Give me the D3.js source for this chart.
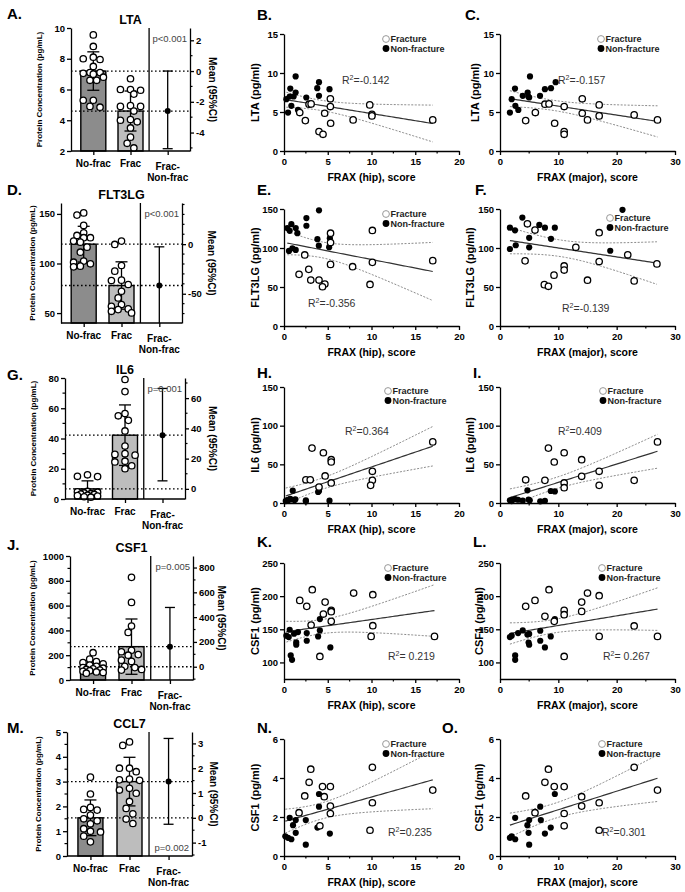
<!DOCTYPE html>
<html>
<head>
<meta charset="utf-8">
<script src="https://cdn.jsdelivr.net/npm/d3@7"></script>
<style>
  body { margin: 0; background: #fff; }
  svg text { font-family: "Liberation Sans", Arial, sans-serif; }
</style>
</head>
<body>
<svg id="fig" width="685" height="892"></svg>
<script>
var FONT = '"Liberation Sans", Arial, sans-serif';

// categories / labels
var groups = ["No-frac", "Frac", "Frac-Non-frac"];
var markers = ["LTA", "FLT3LG", "IL6", "CSF1", "CCL7"];
var barLetters = ["A.", "D.", "G.", "J.", "M."];
var hipLetters = ["B.", "E.", "H.", "K.", "N."];
var majorLetters = ["C.", "F.", "I.", "L.", "O."];
var pTexts = ["p<0.001", "p<0.001", "p=0.001", "p=0.005", "p=0.002"];
var scatterYLabels = ["LTA (pg/ml)", "FLT3LG (pg/ml)", "IL6 (pg/ml)", "CSF1 (pg/ml)", "CSF1 (pg/ml)"];
var hipR2 = ["-0.142", "-0.356", "0.364", " 0.219", "0.235"];
var majorR2 = ["-0.157", "-0.139", "0.409", " 0.267", "0.301"];

// bar summaries (mean, SD) and difference CI
var noFracMean = [7.2, 119.5, 6.7, 107, 1.54];
var noFracSD = [1.25, 18, 5.3, 50, 0.72];
var fracMean = [4.6, 77.8, 42.2, 269, 3.0];
var fracSD = [1.3, 23.9, 20, 223, 0.98];
var diffLow = [-5.05, -80, 5.3, -108, -0.26];
var diffHigh = [0.0, -2.7, 66.4, 478, 3.2];

// bar panel axes
var leftDomain = [[2, 10], [40, 161], [0, 80], [0, 1000], [0, 5]];
var leftTicks = [[2, 4, 6, 8, 10], [50, 100, 150], [0, 20, 40, 60, 80], [0, 200, 400, 600, 800, 1000], [0, 1, 2, 3, 4, 5]];
var leftMinor = [null, null, 10, 100, 0.5];
var rightTicks = [[-4, -2, 0, 2], [-50, 0], [0, 20, 40, 60], [0, 200, 400, 600, 800], [-1, 0, 1, 2, 3]];
var rightMinor = [1, 10, 10, 100, 0.5];

// individual values in the bar panels
var ltaNoFrac = [9.55, 8.8, 8.1, 8.0, 7.95, 7.5, 7.1, 7.1, 7.05, 7.0, 6.8, 6.6, 6.6, 5.3, 5.3, 4.9, 4.85];
var ltaFrac = [6.7, 6.0, 6.0, 5.95, 5.7, 4.95, 4.9, 4.9, 4.6, 4.05, 4.0, 3.9, 3.5, 2.9, 2.5, 2.2];
var flt3NoFrac = [151, 148.8, 138.4, 131, 128.3, 126, 126, 122.6, 121.5, 116.5, 111.4, 102.4, 101.3, 99.7, 97.3, 96.6];
var flt3Frac = [122.6, 119.2, 98, 92.3, 83.2, 82.8, 78.8, 72, 65.3, 58.6, 56.9, 54.2, 53.5, 51.8, 50.2];
var il6NoFrac = [16, 15, 14.8, 5, 4.8, 4.5, 4.0, 3.5, 3.2, 3.0, 2.5, 2.2, 2.0, 1.5, 1.2];
var il6Frac = [79, 71, 56.5, 55, 52, 45, 35, 30, 29.5, 29, 25, 24.5, 22, 20];
var csf1NoFrac = [220, 168, 148, 140, 130, 120, 110, 100, 95, 90, 85, 80, 75, 70, 65, 60, 55];
var csf1Frac = [828, 626, 435, 384, 240, 228, 205, 200, 160, 150, 110, 100, 85, 80];
var ccl7NoFrac = [3.18, 2.5, 1.96, 1.88, 1.85, 1.65, 1.5, 1.42, 1.3, 1.1, 1.0, 0.97, 0.8, 0.57];
var ccl7Frac = [4.6, 4.46, 3.54, 3.54, 3.4, 3.1, 3.07, 3.05, 2.73, 2.66, 2.53, 2.2, 1.92, 1.7, 1.49, 1.31];

// scatter panels: [FRAX, concentration]
var ltaHipFrac = [[5.3, 6.69], [2.86, 6.0], [3.1, 6.04], [5.3, 5.7], [9.8, 5.91], [1.8, 4.93], [4.65, 4.84], [10.05, 4.7], [10.05, 4.5], [2.44, 3.9], [7.9, 3.99], [5.33, 3.56], [17.0, 3.99], [4.0, 2.49], [4.46, 2.14]];
var ltaHipNon = [[1.33, 9.56], [4.0, 8.83], [3.8, 8.06], [5.2, 7.93], [0.72, 8.0], [1.33, 7.5], [0.27, 6.64], [0.65, 6.99], [1.1, 6.99], [2.55, 6.86], [4.0, 7.07], [0.84, 5.79], [1.6, 5.27], [0.46, 4.93]];
var ltaMajFrac = [[14.1, 6.69], [7.7, 6.0], [8.4, 6.04], [11.0, 5.7], [17.0, 5.91], [6.06, 4.93], [14.1, 4.84], [17.0, 4.5], [23.0, 4.63], [4.4, 3.9], [15.0, 3.99], [9.37, 3.56], [27.0, 3.99], [11.0, 2.49], [11.0, 2.14]];
var ltaMajNon = [[5.14, 9.56], [9.54, 8.83], [8.74, 8.06], [7.7, 7.93], [2.57, 8.0], [4.74, 7.5], [2.0, 6.64], [4.86, 6.99], [3.9, 7.07], [6.86, 7.07], [2.63, 5.79], [3.14, 5.27], [1.7, 4.93], [5.0, 6.86]];

var flt3HipFrac = [[5.32, 119], [5.32, 107], [10.1, 122.5], [2.37, 91.1], [17.0, 83.8], [10.1, 81.6], [5.32, 79], [7.84, 76], [2.83, 72.6], [1.72, 66.2], [3.06, 58.9], [4.0, 58.9], [4.67, 53.7], [4.4, 50.3], [9.83, 53.3]];
var flt3HipNon = [[4.0, 148.3], [2.56, 138.4], [0.84, 130.6], [1.34, 125.5], [0.38, 125.5], [0.65, 122], [1.53, 119], [2.56, 128.5], [3.82, 111.3], [5.24, 112.6], [3.98, 103], [5.16, 101], [0.96, 99.7], [1.34, 97.5], [0.57, 96.3]];
var flt3MajFrac = [[4.7, 131], [6.0, 123], [4.3, 83.5], [7.6, 53], [8.3, 50.9], [9.26, 65.2], [11, 77], [11, 71.7], [13, 100.9], [15, 58.7], [17, 119.6], [17, 82.6], [21.9, 91.3], [23, 57.8], [26.9, 79.6]];
var flt3MajNon = [[1.7, 126], [1.7, 98.7], [2.57, 122.6], [2.7, 103.5], [3.83, 139], [5.0, 113], [5.0, 100.9], [6.74, 129.6], [7.7, 126], [8.74, 111.7], [9.4, 126], [18.9, 96.5], [21.0, 149]];

var il6HipFrac = [[17, 79], [3.2, 71], [4.5, 65], [5.4, 56], [5.4, 53], [10.1, 41], [4.7, 35], [2.5, 30], [3.0, 30], [10.1, 29.3], [5.4, 25.9], [9.9, 22.8], [4.0, 20.7]];
var il6HipNon = [[1.0, 16], [4.0, 15.5], [3.9, 14.2], [0.7, 5.5], [1.3, 4.7], [2.5, 3.4], [2.5, 2.2], [5.2, 3.0], [0.3, 3.5], [0.5, 4.2], [0.8, 4.5], [0.2, 2.5], [0.4, 3.0], [1.2, 4.0]];
var il6MajFrac = [[27, 79], [8.3, 71], [11, 65], [9.3, 53], [14, 56], [17, 41], [14, 34.5], [4.4, 30], [7.7, 29.3], [23, 29.3], [11, 25.9], [11, 19.8], [17, 22.8]];
var il6MajNon = [[1.7, 3.5], [2.0, 4.0], [2.6, 5.0], [2.0, 2.5], [4.7, 16.4], [4.9, 4.5], [5.1, 3.4], [6.9, 2.2], [7.7, 2.8], [8.7, 15.5], [9.4, 15.0], [3.1, 4.2], [3.9, 3.0]];

var csf1HipFrac = [[3.23, 209.7], [7.96, 204.7], [10.15, 202.2], [1.8, 193.6], [4.7, 191], [2.6, 184.6], [5.4, 178.5], [5.4, 176.5], [4.5, 173], [5.4, 162], [3.1, 156.4], [10.15, 155.4], [9.96, 139.3], [17.2, 139.3], [4.1, 109]];
var csf1HipNon = [[4.1, 165.4], [4.1, 148.3], [0.65, 149.3], [1.6, 145.8], [1.15, 143.3], [2.6, 144.3], [0.27, 140.3], [0.54, 138.3], [3.9, 139.3], [1.4, 130.2], [1.4, 126.7], [2.6, 132.7], [5.3, 122.7], [0.77, 110.6], [0.92, 104]];
var csf1MajFrac = [[8.4, 209.7], [15, 204.7], [17, 200.7], [6.0, 193.6], [14, 191], [4.4, 184.6], [11, 178.5], [11, 172], [14, 177], [7.7, 169.5], [9.3, 162], [23, 155], [17, 139.3], [27, 139.3], [11, 109]];
var csf1MajNon = [[1.7, 138.3], [2.0, 140.3], [3.1, 144.3], [3.9, 148.3], [4.7, 142], [5.0, 143], [6.9, 147.8], [8.7, 139.3], [9.4, 165.4], [9.4, 163], [4.9, 130], [5.0, 126.7], [6.9, 132.7], [7.7, 122.7], [2.6, 110.6], [2.6, 104]];

var ccl7HipFrac = [[10.1, 4.55], [3.06, 4.45], [2.87, 3.78], [4.4, 3.56], [5.3, 3.56], [17, 3.38], [2.37, 3.08], [4.6, 3.04], [10.1, 2.73], [5.3, 2.56], [1.72, 2.22], [5.3, 2.18], [4.1, 1.55], [9.83, 1.32]];
var ccl7HipNon = [[4.0, 3.18], [4.0, 2.53], [0.65, 1.96], [1.34, 1.84], [2.49, 1.84], [1.03, 1.58], [3.82, 1.46], [1.34, 1.19], [5.24, 1.15], [0.15, 1.01], [0.46, 0.93], [0.84, 0.86], [2.49, 0.58]];
var ccl7MajFrac = [[23, 4.55], [8.3, 4.45], [7.7, 3.78], [9.3, 3.56], [11, 3.56], [27, 3.38], [4.4, 3.08], [14, 3.04], [17, 2.73], [14, 2.56], [6.0, 2.22], [11, 2.18], [11, 1.55], [17, 1.32]];
var ccl7MajNon = [[9.4, 3.18], [6.9, 2.53], [2.6, 1.96], [5.0, 1.84], [7.0, 1.84], [4.7, 1.58], [8.7, 1.46], [4.9, 1.19], [7.7, 1.15], [2.0, 1.01], [1.7, 0.93], [2.6, 0.86], [5.0, 0.58]];

// scatter axes
var scatterYDomain = [[0, 15], [0, 150], [0, 150], [75, 250], [0, 6]];
var scatterYTicks = [[0, 5, 10, 15], [0, 50, 100, 150], [0, 50, 100, 150], [100, 150, 200, 250], [0, 2, 4, 6]];
var hipTicks = [0, 5, 10, 15, 20];
var majorTicks = [0, 10, 20, 30];

var noFracPts = [ltaNoFrac, flt3NoFrac, il6NoFrac, csf1NoFrac, ccl7NoFrac];
var fracPts = [ltaFrac, flt3Frac, il6Frac, csf1Frac, ccl7Frac];
var hipFrac = [ltaHipFrac, flt3HipFrac, il6HipFrac, csf1HipFrac, ccl7HipFrac];
var hipNon = [ltaHipNon, flt3HipNon, il6HipNon, csf1HipNon, ccl7HipNon];
var majFrac = [ltaMajFrac, flt3MajFrac, il6MajFrac, csf1MajFrac, ccl7MajFrac];
var majNon = [ltaMajNon, flt3MajNon, il6MajNon, csf1MajNon, ccl7MajNon];

// layout
var barBoxes = [
  { left: 71, right: 190, top: 28, bottom: 151, letterY: 19, lab: 42, mlab: 209, pAt: "top" },
  { left: 61, right: 182, top: 203, bottom: 323, letterY: 195, lab: 35, mlab: 208, pAt: "top" },
  { left: 65, right: 185, top: 378, bottom: 499, letterY: 380, lab: 36, mlab: 209, pAt: "top" },
  { left: 70, right: 193, top: 556, bottom: 680, letterY: 550, lab: 35, mlab: 213, pAt: "top" },
  { left: 67, right: 192, top: 732, bottom: 856, letterY: 733, lab: 41, mlab: 206, pAt: "bottom" }
];
var rowBoxes = [
  { top: 34, bottom: 151, letterY: 20 },
  { top: 209, bottom: 326, letterY: 195 },
  { top: 387, bottom: 503, letterY: 378 },
  { top: 563, bottom: 679, letterY: 547 },
  { top: 739, bottom: 856, letterY: 733 }
];
var hipLegend = [[386, 39], [386, 214], [388, 391], [388, 568], [386, 744]];
var majLegend = [[601, 39], [610, 218], [603, 391], [602, 568], [602, 744]];
var hipR2Pos = [[342, 84], [308, 307], [345, 435], [388, 660], [388, 836]];
var majR2Pos = [[558, 84], [562, 312], [558, 435], [603, 660], [602, 836]];
var majLetterX = [465, 475, 473, 473, 442];
var majYLabX = [479, 474, 474, 483, 483];

var svg = d3.select("#fig");
var barFill = ["#8c8c8c", "#bdbdbd"];
var plain = function (d) { return String(d); };

function styleAxis(sel, fs) {
  sel.attr("font-family", null).attr("font-size", null);
  sel.select(".domain").attr("stroke", "#000").attr("stroke-width", 1.3);
  sel.selectAll(".tick line").attr("stroke", "#000").attr("stroke-width", 1.3);
  sel.selectAll(".tick text").attr("font-family", FONT).attr("font-size", fs)
    .attr("font-weight", "bold").attr("fill", "#000");
}

function addMinor(g, scale, step, majors, orient, len) {
  if (!step) return;
  var d = scale.domain(), lo = Math.min(d[0], d[1]), hi = Math.max(d[0], d[1]);
  var vals = d3.range(Math.ceil(lo / step - 1e-9) * step, hi + 1e-9, step).filter(function (v) {
    return !majors.some(function (m) { return Math.abs(m - v) < 1e-6; });
  });
  g.selectAll("line.minor").data(vals).enter().append("line")
    .attr("class", "minor")
    .attr("stroke", "#000").attr("stroke-width", 1.2)
    .attr("x1", function (v) { return orient === "bottom" ? scale(v) : 0; })
    .attr("x2", function (v) { return orient === "bottom" ? scale(v) : (orient === "left" ? -len : len); })
    .attr("y1", function (v) { return orient === "bottom" ? 0 : scale(v); })
    .attr("y2", function (v) { return orient === "bottom" ? len : scale(v); });
}

// simple swarm, kept inside the bar width
function swarm(vals, cx, y, r, maxOff) {
  var placed = [], need = (2 * r + 0.6) * (2 * r + 0.6);
  vals.slice().sort(function (a, b) { return b - a; }).forEach(function (v) {
    var py = y(v), best = 0, bestScore = -1;
    for (var s = 0; s < 40; s++) {
      var off = s === 0 ? 0 : Math.ceil(s / 2) * (s % 2 ? -1 : 1) * r * 1.05;
      if (Math.abs(off) > maxOff) continue;
      var minD = placed.reduce(function (m, p) {
        var dx = p.x - (cx + off), dy = p.y - py;
        return Math.min(m, dx * dx + dy * dy);
      }, Infinity);
      if (minD >= need) { best = off; break; }
      if (minD > bestScore) { bestScore = minD; best = off; }
    }
    placed.push({ x: cx + best, y: py });
  });
  return placed;
}

function drawBar(k) {
  var b = barBoxes[k];
  var g = svg.append("g");
  var ref = noFracMean[k];
  var y = d3.scaleLinear().domain(leftDomain[k]).range([b.bottom, b.top]);
  var y2 = d3.scaleLinear().domain([leftDomain[k][0] - ref, leftDomain[k][1] - ref]).range([b.bottom, b.top]);
  var x = d3.scalePoint().domain(groups).range([b.left, b.right]).padding(0.6);
  var divX = (x("Frac") + x("Frac-Non-frac")) / 2;
  var means = [noFracMean[k], fracMean[k]], sds = [noFracSD[k], fracSD[k]];

  g.selectAll("rect.bar").data([0, 1]).enter().append("rect")
    .attr("x", function (i) { return x(groups[i]) - 12.5; })
    .attr("width", 25)
    .attr("y", function (i) { return y(means[i]); })
    .attr("height", function (i) { return b.bottom - y(means[i]); })
    .attr("fill", function (i) { return barFill[i]; })
    .attr("stroke", "#000").attr("stroke-width", 1.4);

  // dotted reference lines at the two means
  g.selectAll("line.ref").data(means).enter().append("line")
    .attr("x1", b.left).attr("x2", b.right)
    .attr("y1", function (d) { return y(d); }).attr("y2", function (d) { return y(d); })
    .attr("stroke", "#000").attr("stroke-width", 1.3).attr("stroke-dasharray", "1.6,2.4");

  // SD error bars
  [0, 1].forEach(function (i) {
    var cx = x(groups[i]), hi = y(means[i] + sds[i]), lo = y(Math.max(means[i] - sds[i], leftDomain[k][0]));
    g.append("line").attr("x1", cx).attr("x2", cx).attr("y1", hi).attr("y2", lo)
      .attr("stroke", "#000").attr("stroke-width", 1.3);
    [hi, lo].forEach(function (yy) {
      g.append("line").attr("x1", cx - 6).attr("x2", cx + 6).attr("y1", yy).attr("y2", yy)
        .attr("stroke", "#000").attr("stroke-width", 1.3);
    });
  });

  // individual points
  [noFracPts[k], fracPts[k]].forEach(function (vals, i) {
    g.selectAll(null).data(swarm(vals, x(groups[i]), y, 3.2, 10.5)).enter().append("circle")
      .attr("cx", function (d) { return d.x; }).attr("cy", function (d) { return d.y; })
      .attr("r", 3.2).attr("fill", "#fff").attr("stroke", "#000").attr("stroke-width", 1.3);
  });

  // difference and its CI on the right axis
  var dx = x("Frac-Non-frac"), dm = fracMean[k] - ref;
  var d2 = y2.domain();
  var top = y2(Math.min(diffHigh[k], d2[1])), bot = y2(Math.max(diffLow[k], d2[0]));
  g.append("line").attr("x1", dx).attr("x2", dx).attr("y1", top).attr("y2", bot)
    .attr("stroke", "#000").attr("stroke-width", 1.3);
  [[diffHigh[k], top], [diffLow[k], bot]].forEach(function (c) {
    if (c[0] > d2[0] && c[0] < d2[1]) {
      g.append("line").attr("x1", dx - 5).attr("x2", dx + 5).attr("y1", c[1]).attr("y2", c[1])
        .attr("stroke", "#000").attr("stroke-width", 1.3);
    }
  });
  g.append("circle").attr("cx", dx).attr("cy", y2(dm)).attr("r", 3).attr("fill", "#000");

  // frame: divider and bottom axis
  g.append("line").attr("x1", divX).attr("x2", divX).attr("y1", b.top).attr("y2", b.bottom)
    .attr("stroke", "#000").attr("stroke-width", 1.3);
  var xa = g.append("g").attr("transform", "translate(0," + b.bottom + ")")
    .call(d3.axisBottom(x).tickSize(4).tickSizeOuter(0).tickFormat(""));
  styleAxis(xa, 10);
  xa.select(".domain").attr("d", "M" + b.left + ",0H" + b.right);

  groups.forEach(function (name) {
    var t = g.append("text").attr("x", x(name)).attr("text-anchor", "middle")
      .attr("font-size", 10).attr("font-weight", "bold");
    if (name === "Frac-Non-frac") {
      t.attr("y", b.bottom + 19).text("Frac-");
      g.append("text").attr("x", x(name)).attr("y", b.bottom + 30).attr("text-anchor", "middle")
        .attr("font-size", 10).attr("font-weight", "bold").text("Non-frac");
    } else {
      t.attr("y", b.bottom + 16).text(name);
    }
  });

  var la = g.append("g").attr("transform", "translate(" + b.left + ",0)")
    .call(d3.axisLeft(y).tickValues(leftTicks[k]).tickFormat(plain).tickSize(4).tickPadding(2).tickSizeOuter(0));
  styleAxis(la, 9.5);
  addMinor(la, y, leftMinor[k], leftTicks[k], "left", 2.5);

  var ra = g.append("g").attr("transform", "translate(" + b.right + ",0)")
    .call(d3.axisRight(y2).tickValues(rightTicks[k]).tickFormat(plain).tickSize(4).tickPadding(2).tickSizeOuter(0));
  styleAxis(ra, 9.5);
  addMinor(ra, y2, rightMinor[k], rightTicks[k], "right", 2.5);
  var rb = ra.node().getBBox();
  var mx = Math.max(b.mlab, b.right + rb.x + rb.width + 3);

  // texts
  g.append("text").attr("x", 7).attr("y", b.letterY).attr("font-size", 15).attr("font-weight", "bold").text(barLetters[k]);
  g.append("text").attr("x", (b.left + b.right) / 2).attr("y", b.top - 4).attr("text-anchor", "middle")
    .attr("font-size", 12.5).attr("font-weight", "bold").text(markers[k]);
  g.append("text").attr("transform", "translate(" + b.lab + "," + (b.top + b.bottom) / 2 + ") rotate(-90)")
    .attr("text-anchor", "middle").attr("font-size", 8).attr("font-weight", "bold")
    .text("Protein Concentration (pg/mL)");
  g.append("text").attr("transform", "translate(" + mx + "," + (b.top + b.bottom) / 2 + ") rotate(90)")
    .attr("text-anchor", "middle").attr("font-size", 10).attr("font-weight", "bold")
    .text("Mean (95%CI)");
  g.append("text").attr("x", b.right - 3)
    .attr("y", b.pAt === "top" ? b.top + 14 : b.bottom - 5)
    .attr("text-anchor", "end").attr("font-size", 9.5).attr("fill", "#444").text(pTexts[k]);
}

function regression(pts) {
  var n = pts.length;
  var mx = d3.mean(pts, function (d) { return d[0]; });
  var my = d3.mean(pts, function (d) { return d[1]; });
  var sxx = d3.sum(pts, function (d) { return (d[0] - mx) * (d[0] - mx); });
  var sxy = d3.sum(pts, function (d) { return (d[0] - mx) * (d[1] - my); });
  var bb = sxy / sxx, a = my - bb * mx;
  var s = Math.sqrt(d3.sum(pts, function (d) { var e = d[1] - a - bb * d[0]; return e * e; }) / (n - 2));
  var t = 1.96 + 2.4 / (n - 2);
  var ext = d3.extent(pts, function (d) { return d[0]; });
  return d3.range(0, 61).map(function (i) {
    var xv = ext[0] + (ext[1] - ext[0]) * i / 60;
    var fit = a + bb * xv, h = t * s * Math.sqrt(1 / n + (xv - mx) * (xv - mx) / sxx);
    return { x: xv, fit: fit, lo: fit - h, hi: fit + h };
  });
}

function drawScatter(k, isMajor) {
  var r = rowBoxes[k];
  var left = isMajor ? 500 : 284, right = isMajor ? 675 : 459;
  var g = svg.append("g");
  var x = d3.scaleLinear().domain(isMajor ? [0, 30] : [0, 20]).range([left, right]);
  var y = d3.scaleLinear().domain(scatterYDomain[k]).range([r.bottom, r.top]);
  var frac = isMajor ? majFrac[k] : hipFrac[k];
  var non = isMajor ? majNon[k] : hipNon[k];
  var clipId = "clip" + k + (isMajor ? "m" : "h");
  svg.append("clipPath").attr("id", clipId).append("rect")
    .attr("x", left).attr("y", r.top).attr("width", right - left).attr("height", r.bottom - r.top);

  var fitPts = regression(frac.concat(non));
  var lg = g.append("g").attr("clip-path", "url(#" + clipId + ")");
  ["lo", "hi"].forEach(function (key) {
    lg.append("path").datum(fitPts)
      .attr("d", d3.line().x(function (d) { return x(d.x); }).y(function (d) { return y(d[key]); }))
      .attr("fill", "none").attr("stroke", "#8a8a8a").attr("stroke-width", 1).attr("stroke-dasharray", "2,1.5");
  });
  lg.append("path").datum(fitPts)
    .attr("d", d3.line().x(function (d) { return x(d.x); }).y(function (d) { return y(d.fit); }))
    .attr("fill", "none").attr("stroke", "#333").attr("stroke-width", 1.2);

  g.selectAll(null).data(non).enter().append("circle")
    .attr("cx", function (d) { return x(d[0]); }).attr("cy", function (d) { return y(d[1]); })
    .attr("r", 3.1).attr("fill", "#000");
  g.selectAll(null).data(frac).enter().append("circle")
    .attr("cx", function (d) { return x(d[0]); }).attr("cy", function (d) { return y(d[1]); })
    .attr("r", 3.2).attr("fill", "#fff").attr("stroke", "#000").attr("stroke-width", 1.3);

  var ticks = isMajor ? majorTicks : hipTicks;
  var xa = g.append("g").attr("transform", "translate(0," + r.bottom + ")")
    .call(d3.axisBottom(x).tickValues(ticks).tickFormat(plain).tickSize(4).tickPadding(3).tickSizeOuter(0));
  styleAxis(xa, 9.5);
  addMinor(xa, x, isMajor ? 5 : 2.5, ticks, "bottom", 2.5);
  var ya = g.append("g").attr("transform", "translate(" + left + ",0)")
    .call(d3.axisLeft(y).tickValues(scatterYTicks[k]).tickFormat(plain).tickSize(4).tickPadding(2).tickSizeOuter(0));
  styleAxis(ya, 9.5);

  g.append("text").attr("x", isMajor ? majLetterX[k] : 257).attr("y", r.letterY)
    .attr("font-size", 15).attr("font-weight", "bold").text(isMajor ? majorLetters[k] : hipLetters[k]);
  g.append("text").attr("x", (left + right) / 2).attr("y", r.bottom + 30).attr("text-anchor", "middle")
    .attr("font-size", 10.5).attr("font-weight", "bold")
    .text(isMajor ? "FRAX (major), score" : "FRAX (hip), score");
  g.append("text")
    .attr("transform", "translate(" + (isMajor ? majYLabX[k] : 259) + "," + (r.top + r.bottom) / 2 + ") rotate(-90)")
    .attr("text-anchor", "middle").attr("font-size", 11).attr("font-weight", "bold").text(scatterYLabels[k]);

  // legend
  var lp = isMajor ? majLegend[k] : hipLegend[k];
  g.append("circle").attr("cx", lp[0]).attr("cy", lp[1]).attr("r", 3.4)
    .attr("fill", "#fff").attr("stroke", "#999").attr("stroke-width", 1);
  g.append("circle").attr("cx", lp[0]).attr("cy", lp[1] + 9.5).attr("r", 3.4).attr("fill", "#000");
  g.append("text").attr("x", lp[0] + 4.5).attr("y", lp[1] + 3.3).attr("font-size", 9)
    .attr("font-weight", "bold").attr("fill", "#222").text("Fracture");
  g.append("text").attr("x", lp[0] + 4.5).attr("y", lp[1] + 12.8).attr("font-size", 9)
    .attr("font-weight", "bold").attr("fill", "#222").text("Non-fracture");

  // R² label
  var rp = isMajor ? majR2Pos[k] : hipR2Pos[k];
  var rt = g.append("text").attr("x", rp[0]).attr("y", rp[1]).attr("font-size", 10.5).attr("fill", "#333");
  rt.append("tspan").text("R");
  rt.append("tspan").attr("dy", -4).attr("font-size", 7).text("2");
  rt.append("tspan").attr("dy", 4).text("=" + (isMajor ? majorR2[k] : hipR2[k]));
}

for (var k = 0; k < 5; k++) {
  drawBar(k);
  drawScatter(k, false);
  drawScatter(k, true);
}
</script>
</body>
</html>
